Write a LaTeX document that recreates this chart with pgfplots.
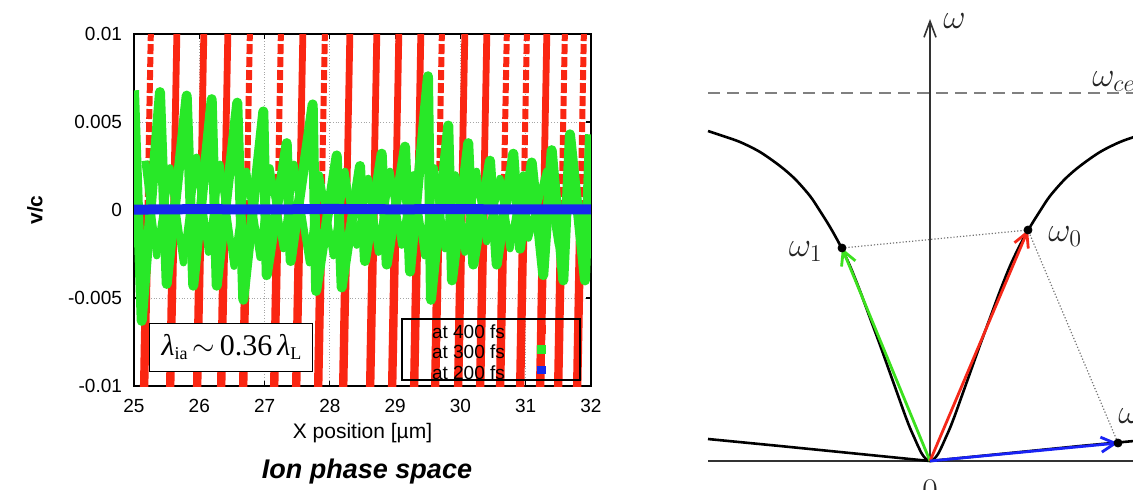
\documentclass[border=0pt]{standalone}
\usepackage{fontspec}
\setmainfont{Liberation Sans}
\newfontfamily\tnr{Liberation Serif}
\usepackage{pgfplots}
\pgfplotsset{compat=1.18}
\usetikzlibrary{arrows.meta}
\definecolor{gpred}{RGB}{250,38,18}
\definecolor{gpgreen}{RGB}{40,232,40}
\definecolor{gpblue}{RGB}{22,40,238}
\definecolor{kred}{RGB}{245,40,25}
\definecolor{kgreen}{RGB}{60,225,30}
\definecolor{kblue}{RGB}{25,35,245}
\begin{document}
\begin{tikzpicture}[x=0.5pt,y=0.5pt]
\useasboundingbox (0,0) rectangle (1133,489);
\clip (0,0) rectangle (1133,489);
% ---------------- left panel: ion phase space ----------------
\begin{axis}[
  at={(67pt,51.5pt)}, anchor=south west, scale only axis,
  width=228.5pt, height=176pt,
  xmin=25, xmax=32, ymin=-0.01, ymax=0.01,
  xtick={25,26,...,32},
  ytick={-0.01,-0.005,0,0.005,0.01},
  scaled y ticks=false,
  /pgf/number format/assume math mode=true,
  y tick label style={/pgf/number format/fixed,/pgf/number format/precision=3, xshift=-2.5pt},
  tick label style={font=\fontsize{9.5}{11}\selectfont},
  x tick label style={yshift=-3pt},
  tick align=inside, xtick pos=both, ytick pos=both,
  major tick length=2.5pt,
  every tick/.style={black, line width=0.6pt},
  axis line style={line width=1pt},
  grid=major,
  grid style={densely dotted, black!35, line width=0.4pt},
  unbounded coords=jump,
  xlabel={X position [µm]},
  ylabel={\bfseries v/c},
  xlabel style={font=\fontsize{10.5}{12}\selectfont, at={(rel axis cs:0.5,-0.1335)}, anchor=center},
  ylabel style={font=\fontsize{10.5}{12}\selectfont, at={(rel axis cs:-0.2166,0.5)}, anchor=center},
  legend style={at={(0.978,0.0142)}, anchor=south east, draw=black, line width=1pt, fill=none,
    font=\fontsize{9.5}{11}\selectfont, inner xsep=15pt, inner ysep=0.5pt, row sep=1.2pt,
    nodes={inner sep=0pt, text height=9pt, text depth=0pt}},
  legend cell align=right,
  legend plot pos=right,
]
% red (400 fs) stripes, lower half
\addplot[gpred, line width=4.2pt, forget plot] coordinates {
 (25.153,-0.0105) (25.207,0) (25.207,nan)
 (25.552,-0.0105) (25.606,0) (25.606,nan)
 (25.965,-0.0105) (26.019,0) (26.019,nan)
 (26.333,-0.0105) (26.387,0) (26.387,nan)
 (26.670,-0.0105) (26.724,0) (26.724,nan)
 (27.145,-0.0105) (27.199,0) (27.199,nan)
 (27.482,-0.0105) (27.536,0) (27.536,nan)
 (27.819,-0.0105) (27.873,0) (27.873,nan)
 (28.202,-0.0105) (28.256,0) (28.256,nan)
 (28.615,-0.0105) (28.669,0) (28.669,nan)
 (28.952,-0.0105) (29.006,0) (29.006,nan)
 (29.289,-0.0105) (29.343,0) (29.343,nan)
 (29.611,-0.0105) (29.665,0) (29.665,nan)
 (29.963,-0.0105) (30.017,0) (30.017,nan)
 (30.300,-0.0105) (30.354,0) (30.354,nan)
 (30.606,-0.0105) (30.660,0) (30.660,nan)
 (30.913,-0.0105) (30.967,0) (30.967,nan)
 (31.219,-0.0105) (31.273,0) (31.273,nan)
 (31.495,-0.0105) (31.549,0) (31.549,nan)
 (31.786,-0.0105) (31.840,0) (31.840,nan)
};
% red (400 fs) stripes, upper half, solid
\addplot[gpred, line width=3.4pt, forget plot] coordinates {
 (25.606,0) (25.659,0.0105) (25.659,nan)
 (26.019,0) (26.072,0.0105) (26.072,nan)
 (26.387,0) (26.440,0.0105) (26.440,nan)
 (27.536,0) (27.589,0.0105) (27.589,nan)
 (28.256,0) (28.309,0.0105) (28.309,nan)
 (28.669,0) (28.722,0.0105) (28.722,nan)
 (29.006,0) (29.059,0.0105) (29.059,nan)
 (29.343,0) (29.396,0.0105) (29.396,nan)
 (30.017,0) (30.070,0.0105) (30.070,nan)
 (30.354,0) (30.407,0.0105) (30.407,nan)
 (31.273,0) (31.326,0.0105) (31.326,nan)
};
% red (400 fs) stripes, upper half, broken
\addplot[gpred, line width=3pt, dash pattern=on 5pt off 1.5pt, forget plot] coordinates {
 (25.207,0) (25.260,0.0105) (25.260,nan)
 (26.724,0) (26.777,0.0105) (26.777,nan)
 (27.199,0) (27.252,0.0105) (27.252,nan)
 (27.873,0) (27.926,0.0105) (27.926,nan)
 (29.665,0) (29.718,0.0105) (29.718,nan)
 (30.660,0) (30.713,0.0105) (30.713,nan)
 (30.967,0) (31.020,0.0105) (31.020,nan)
 (31.549,0) (31.602,0.0105) (31.602,nan)
 (31.840,0) (31.893,0.0105) (31.893,nan)
};
% green (300 fs), inner filling strokes
\addplot[gpgreen, line width=3.6pt, line join=round, forget plot] coordinates {
 (25.168,0.0028) (25.348,-0.0026) (25.551,0.0024) (25.757,-0.0030)
 (25.958,0.0030) (26.140,-0.0024) (26.317,0.0026) (26.532,-0.0032)
 (26.724,0.0022) (26.931,-0.0027) (27.083,0.0024) (27.289,-0.0022)
 (27.450,0.0026) (27.687,-0.0030) (27.840,0.0020) (28.055,-0.0026)
 (28.231,0.0022) (28.412,-0.0020) (28.588,0.0018) (28.744,-0.0024)
 (28.921,0.0022) (29.101,-0.0020) (29.278,0.0020) (29.453,-0.0026)
 (29.599,0.0024) (29.764,-0.0022) (29.921,0.0020) (30.070,-0.0024)
 (30.247,0.0022) (30.403,-0.0018) (30.606,0.0018) (30.760,-0.0022)
 (30.962,0.0020) (31.042,-0.0016) (31.319,0.0022) (31.500,-0.0020)
 (31.720,0.0020) (31.950,-0.0022)
};
% green (300 fs), main strokes
\addplot[gpgreen, line width=5pt, line join=round, forget plot] coordinates {
 (25.000,0.0068) (25.118,-0.0063) (25.398,0.0067) (25.501,-0.0042)
 (25.807,0.0065) (25.908,-0.0043) (26.190,0.0063) (26.267,-0.0043)
 (26.582,0.0061) (26.674,-0.0051) (26.981,0.0056) (27.033,-0.0037)
 (27.339,0.0038) (27.400,-0.0029) (27.737,0.0060) (27.790,-0.0046)
 (28.105,0.0031) (28.181,-0.0044) (28.462,0.0025) (28.538,-0.0029)
 (28.794,0.0032) (28.871,-0.0031) (29.151,0.0036) (29.228,-0.0035)
 (29.503,0.0076) (29.549,-0.0051) (29.814,0.0048) (29.871,-0.0040)
 (30.120,0.0038) (30.197,-0.0031) (30.453,0.0028) (30.556,-0.0031)
 (30.810,0.0032) (30.912,-0.0022) (31.092,0.0027) (31.269,-0.0037)
 (31.398,0.0034) (31.576,-0.0040) (31.678,0.0043) (31.908,-0.0040)
 (31.985,0.0043)
};
% blue (200 fs)
\addplot[gpblue, line width=5pt, forget plot] coordinates {
 (24.9,0.00002) (26,0.00005) (27,0.00003) (28,0.00006) (29,0.00004) (30,0.00005) (31,0.00003) (32.1,0.00004)
};
\addlegendimage{legend image code/.code={\fill[gpred] (16.2pt,-1.7pt) rectangle (19.6pt,1.7pt); \path (0pt,-2pt) (21.5pt,2pt);}}
\addlegendentry{at 400 fs}
\addlegendimage{legend image code/.code={\fill[gpgreen] (16.2pt,-1.7pt) rectangle (19.6pt,1.7pt); \path (0pt,-2pt) (21.5pt,2pt);}}
\addlegendentry{at 300 fs}
\addlegendimage{legend image code/.code={\fill[gpblue] (16.2pt,-1.7pt) rectangle (19.6pt,1.7pt); \path (0pt,-2pt) (21.5pt,2pt);}}
\addlegendentry{at 200 fs}
\node[draw=black, line width=0.5pt, fill=white, minimum width=81.5pt, minimum height=24pt, inner sep=0pt,
  font=\tnr\fontsize{15}{17}\selectfont] at (rel axis cs:0.2133,0.1108)
  {{\itshape λ}\raisebox{-0.35ex}{\fontsize{9}{10}\selectfont ia}\,$\sim$\,0.36\,{\itshape λ}\raisebox{-0.35ex}{\fontsize{9}{10}\selectfont L}};
\end{axis}
\node[font=\fontsize{13.5}{15}\selectfont\bfseries\itshape] at (367,17) {Ion phase space};
% ---------------- right panel: dispersion diagram ----------------
\begin{axis}[
  at={(354pt,14pt)}, anchor=south west,
  x=0.5pt, y=0.5pt,
  xmin=-222, xmax=215, ymin=0, ymax=442,
  axis lines=middle, ticks=none,
  axis line style={line width=0.8pt, black!80},
  x axis line style={-},
  y axis line style={-{Straight Barb[length=8pt,width=6pt]}},
  clip=false,
]
\addplot[gray, line width=0.8pt, dash pattern=on 6pt off 3.5pt] coordinates {(-222,368) (215,368)};
% upper branch, right
\addplot[black, line width=1.3pt, smooth] coordinates {
 (0,0) (4,2) (8,7) (12,15) (16,24) (20,33) (25,46) (30,60) (40,88) (50,116) (60,143) (70,170)
 (80,195) (90,216) (100,234) (110,250) (120,265) (135,282) (150,295) (170,309) (190,319) (210,326) (230,332)};
% upper branch, left
\addplot[black, line width=1.3pt, smooth] coordinates {
 (0,0) (-4,2) (-8,7) (-12,15) (-16,24) (-20,33) (-25,46) (-30,60) (-40,88) (-50,116) (-60,143) (-70,170)
 (-80,195) (-90,216) (-100,234) (-110,250) (-120,265) (-135,282) (-150,295) (-170,309) (-190,319) (-210,326) (-222,330)};
% lower branch
\addplot[black, line width=1.3pt] coordinates {(-222,22) (-150,15) (-75,7.5) (0,0) (75,7.5) (150,15) (188,18.5) (230,22.5)};
% dotted connections
\addplot[black!55, line width=0.6pt, densely dotted] coordinates {(-88,213) (98,231) (188,18)};
% wave vectors
\addplot[kgreen, line width=1.4pt, -{Straight Barb[length=7pt,width=7.5pt]}] coordinates {(0,0) (-88,213)};
\addplot[kred, line width=1.4pt, -{Straight Barb[length=7pt,width=7.5pt]}] coordinates {(0,0) (98,231)};
\addplot[kblue, line width=1.4pt, -{Straight Barb[length=7pt,width=7.5pt]}] coordinates {(0,0) (188,18)};
\addplot[only marks, mark=*, mark size=2pt, black] coordinates {(-88,213) (98,231) (188,18)};
\node[anchor=base west, inner sep=0pt, font=\fontsize{18}{20}\selectfont, text=black!85] at (axis cs:13,433) {$\omega$};
\node[anchor=base west, inner sep=0pt, font=\fontsize{18}{20}\selectfont, text=black!85] at (axis cs:162,375) {$\omega_{ce}$};
\node[anchor=base east, inner sep=0pt, font=\fontsize{18}{20}\selectfont, text=black!85] at (axis cs:-107,205) {$\omega_1$};
\node[anchor=base west, inner sep=0pt, font=\fontsize{18}{20}\selectfont, text=black!85] at (axis cs:118,220) {$\omega_0$};
\node[anchor=base west, inner sep=0pt, font=\fontsize{18}{20}\selectfont, text=black!85] at (axis cs:188,38) {$\omega_2$};
\node[anchor=north, inner sep=0pt, font=\fontsize{18}{20}\selectfont, text=black!85] at (axis cs:0,-19) {$0$};
\end{axis}
\end{tikzpicture}
\end{document}
